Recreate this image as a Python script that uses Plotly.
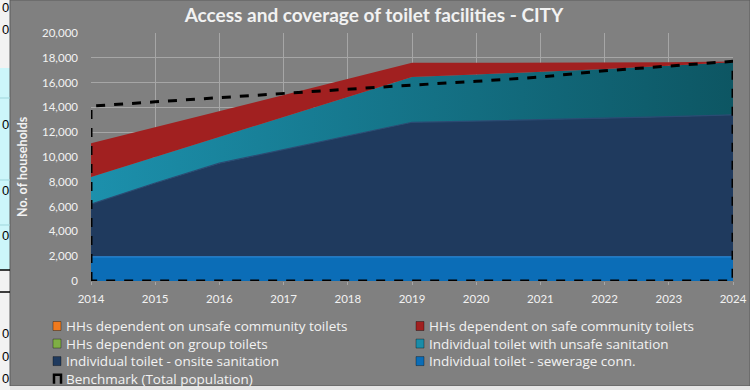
import plotly.graph_objects as go

years = [2014, 2015, 2016, 2017, 2018, 2019, 2020, 2021, 2022, 2023, 2024]

# household counts per category (stacked, bottom to top)
sewerage = [1950, 1950, 1950, 1950, 1950, 1950, 1950, 1950, 1950, 1950, 1950]
onsite = [4250, 5950, 7550, 8650, 9750, 10850, 10950, 11050, 11200, 11300, 11450]
unsafe_sanitation = [2190, 2100, 2100, 2600, 3150, 3650, 3750, 3850, 3950, 4100, 4250]
safe_community = [2710, 2400, 2100, 1800, 1450, 1150, 950, 750, 500, 300, 50]
group_toilets = [0, 0, 0, 0, 0, 0, 0, 0, 0, 0, 0]
unsafe_community = [0, 0, 0, 0, 0, 0, 0, 0, 0, 0, 0]
benchmark = [14100, 14450, 14800, 15100, 15450, 15800, 16100, 16450, 16950, 17350, 17720]

y_ticks = [0, 2000, 4000, 6000, 8000, 10000, 12000, 14000, 16000, 18000, 20000]

W, H = 750, 390
L, R, T, B = 91, 17, 33, 109
PW = W - L - R
PH = H - T - B

def px(x):
    return (x - L) / PW

def py(y):
    return (H - B - y) / PH

FONT = "Lato"
LEG_FONT = "Open Sans"
LEG_SIZE = 13.5
TXT = "#F2F2F2"

fig = go.Figure()

# (name, values, colour, gradient)  -- listed top of stack first (legend reading order)
stack = [
    ("HHs dependent on unsafe community toilets", unsafe_community, "#F07A1E", None),
    ("HHs dependent on safe community toilets", safe_community, "#A12020", None),
    ("HHs dependent on group toilets", group_toilets, "#7FAF45", None),
    ("Individual toilet with unsafe sanitation", unsafe_sanitation, "#1A8CA8",
     dict(type="horizontal", colorscale=[[0, "#1C90AC"], [1, "#0D5663"]])),
    ("Individual toilet - onsite sanitation", onsite, "#1F3A5E", None),
    ("Individual toilet - sewerage conn.", sewerage, "#0B6DB7", None),
]
line_cols = {
    "Individual toilet - sewerage conn.": "#2585D6",
    "Individual toilet - onsite sanitation": "#2A4B73",
}

for name, vals, col, grad in reversed(stack):
    kw = {}
    if grad is not None:
        kw["fillgradient"] = grad
    fig.add_trace(go.Scatter(
        x=years, y=vals, name=name, stackgroup="one", mode="lines",
        line=dict(width=1.2 if name in line_cols else 0, color=line_cols.get(name, col)),
        fillcolor=col, showlegend=False, **kw,
    ))

# Benchmark drawn as an unfilled area outline (dashed border)
BENCH_NAME = "Benchmark (Total population)"
bx = [years[0]] + years + [years[-1], years[0]]
by = [0] + benchmark + [0, 0]
fig.add_trace(go.Scatter(
    x=bx, y=by, name=BENCH_NAME, mode="lines",
    fill="toself", fillcolor="rgba(0,0,0,0)",
    line=dict(color="black", width=3, dash="dash"), showlegend=False,
))

shapes = []
# spreadsheet strip at the left edge
shapes.append(dict(type="rect", xref="paper", yref="paper", x0=px(0), x1=px(10), y0=py(0), y1=py(390),
                   fillcolor="#F2F2F2", line=dict(width=0), layer="below"))
shapes.append(dict(type="rect", xref="paper", yref="paper", x0=px(0), x1=px(10), y0=py(68), y1=py(270),
                   fillcolor="#CCF6FA", line=dict(width=0), layer="below"))
for yy in (98, 180, 225):
    shapes.append(dict(type="line", xref="paper", yref="paper", x0=px(0), x1=px(10), y0=py(yy), y1=py(yy),
                       line=dict(color="#9FD6DC", width=1)))
for yy in (270, 292):
    shapes.append(dict(type="line", xref="paper", yref="paper", x0=px(0), x1=px(10), y0=py(yy), y1=py(yy),
                       line=dict(color="black", width=1.5)))
shapes.append(dict(type="rect", xref="paper", yref="paper", x0=px(10), x1=px(750), y0=py(0), y1=py(386),
                   fillcolor="#808080", line=dict(color="#5A5A5A", width=1), layer="below"))
shapes.append(dict(type="rect", xref="paper", yref="paper", x0=px(10), x1=px(750), y0=py(386), y1=py(390),
                   fillcolor="#E6E6E6", line=dict(width=0), layer="below"))

annotations = [
    dict(text="No. of households", xref="paper", yref="paper", x=px(22), y=py(167),
         textangle=-90, showarrow=False, xanchor="center", yanchor="middle",
         font=dict(family=FONT, size=12.5, color=TXT, weight="bold")),
]
for yy in (7, 29, 124, 190, 235, 333, 356, 379):
    annotations.append(dict(text="0", xref="paper", yref="paper", x=px(9.5), y=py(yy), showarrow=False,
                            xanchor="right", yanchor="middle", borderpad=0,
                            font=dict(family="Liberation Sans", size=13, color="black")))

# legend drawn as two columns (reading order: left, right, left, right, ...)
legend_items = [(n, c) for n, _, c, _ in stack] + [(BENCH_NAME, None)]
col_x = [53, 416]
row0 = 326.0
step = LEG_SIZE * 1.3
columns = {0: [], 1: []}
for i, (name, col) in enumerate(legend_items):
    c = i % 2
    cx = col_x[c]
    cy = row0 + step * (i // 2)
    columns[c].append(name)
    if col is not None:
        shapes.append(dict(type="rect", xref="paper", yref="paper",
                           x0=px(cx), x1=px(cx + 8), y0=py(cy - 4.5), y1=py(cy + 4.5),
                           fillcolor=col, line=dict(color="rgba(0,0,0,0.35)", width=1)))
    else:
        shapes.append(dict(type="path", xref="paper", yref="paper",
                           path=(f"M {px(cx + 1)} {py(cy + 5)} L {px(cx + 1)} {py(cy - 4)} "
                                 f"L {px(cx + 8)} {py(cy - 4)} L {px(cx + 8)} {py(cy + 5)}"),
                           line=dict(color="black", width=2.5)))
for c, names in columns.items():
    center = row0 + step * (len(names) - 1) / 2
    annotations.append(dict(text="<br>".join(names), xref="paper", yref="paper",
                            x=px(col_x[c] + 12), y=py(center), align="left",
                            xanchor="left", yanchor="middle", showarrow=False, borderpad=0,
                            font=dict(family=LEG_FONT, size=LEG_SIZE, color=TXT)))

fig.update_layout(
    width=W, height=H,
    margin=dict(l=L, r=R, t=T, b=B, autoexpand=False),
    paper_bgcolor="#808080", plot_bgcolor="white",
    title=dict(text="<b>Access and coverage of toilet facilities - CITY</b>",
               x=px(374), xanchor="center", y=1 - 15 / H, yanchor="middle", yref="container",
               xref="paper",
               font=dict(family=FONT, size=19, color=TXT)),
    xaxis=dict(range=[2014, 2024], tickmode="array", tickvals=years, ticktext=[str(y) for y in years],
               showgrid=True, gridcolor="#A6A6A6", gridwidth=1, zeroline=False,
               ticks="outside", ticklen=3, tickcolor="#A6A6A6", ticklabelstandoff=4,
               tickfont=dict(family=FONT, size=11.5, color=TXT), showline=False),
    yaxis=dict(range=[0, 20000], tickmode="array", tickvals=y_ticks,
               ticktext=[f"{v:,}" for v in y_ticks],
               showgrid=True, gridcolor="#A6A6A6", gridwidth=1, zeroline=False,
               ticklabelstandoff=12,
               tickfont=dict(family=FONT, size=11.5, color=TXT), showline=False),
    shapes=shapes, annotations=annotations,
    showlegend=False,
)

fig.write_html("out.html")
